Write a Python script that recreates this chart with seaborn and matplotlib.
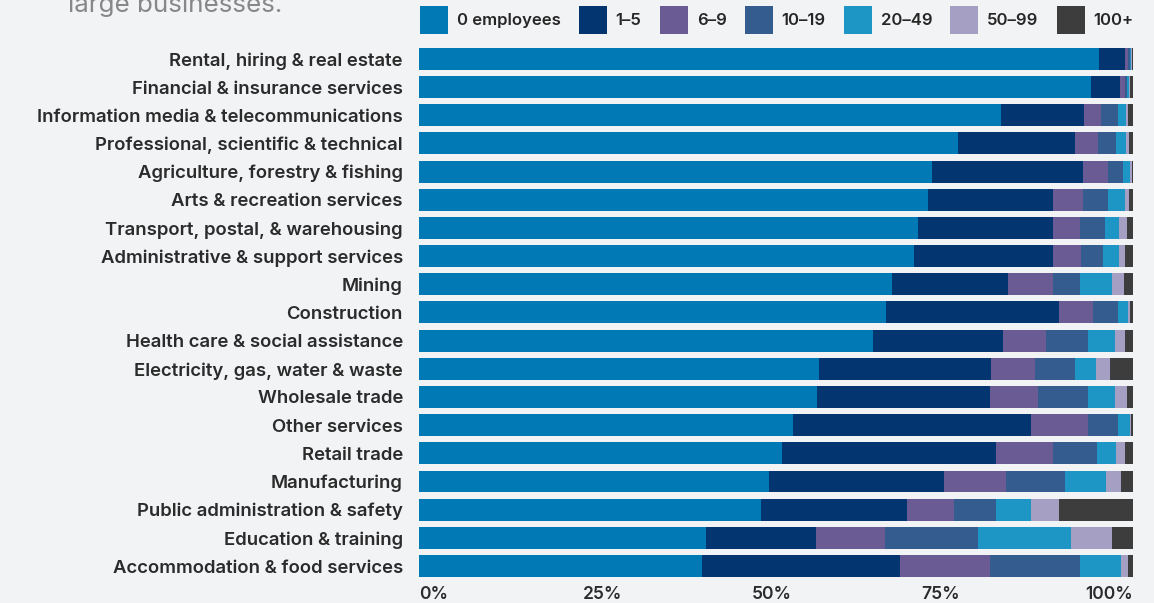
import numpy as np
import pandas as pd
import matplotlib
matplotlib.use("Agg")
import matplotlib.pyplot as plt
import seaborn as sns
from matplotlib.patches import Patch

categories = [
    "Rental, hiring & real estate",
    "Financial & insurance services",
    "Information media & telecommunications",
    "Professional, scientific & technical",
    "Agriculture, forestry & fishing",
    "Arts & recreation services",
    "Transport, postal, & warehousing",
    "Administrative & support services",
    "Mining",
    "Construction",
    "Health care & social assistance",
    "Electricity, gas, water & waste",
    "Wholesale trade",
    "Other services",
    "Retail trade",
    "Manufacturing",
    "Public administration & safety",
    "Education & training",
    "Accommodation & food services",
]

emp_0 = [95.2, 94.1, 81.5, 75.5, 71.8, 71.2, 69.9, 69.3, 66.2, 65.4, 63.6, 56.0, 55.7, 52.4, 50.9, 49.0, 47.9, 40.2, 39.7]
emp_1_5 = [3.7, 4.1, 11.6, 16.4, 21.1, 17.6, 18.8, 19.5, 16.3, 24.2, 18.2, 24.1, 24.2, 33.3, 29.9, 24.5, 20.4, 15.4, 27.7]
emp_6_9 = [0.4, 0.7, 2.4, 3.2, 3.5, 4.2, 3.9, 3.9, 6.2, 4.8, 6.0, 6.2, 6.8, 8.0, 8.0, 8.7, 6.6, 9.7, 12.5]
emp_10_19 = [0.2, 0.2, 2.4, 2.5, 2.1, 3.4, 3.4, 3.1, 3.8, 3.4, 5.9, 5.5, 6.9, 4.2, 6.1, 8.3, 5.9, 13.0, 12.6]
emp_20_49 = [0.2, 0.3, 1.1, 1.4, 1.0, 2.5, 2.0, 2.2, 4.5, 1.5, 3.7, 3.0, 3.9, 1.6, 2.7, 5.7, 4.9, 13.0, 5.8]
emp_50_99 = [0.1, 0.2, 0.2, 0.4, 0.3, 0.5, 1.1, 0.8, 1.7, 0.3, 1.4, 2.0, 1.6, 0.2, 1.2, 2.1, 3.9, 5.7, 1.0]
emp_100 = [0.2, 0.4, 0.8, 0.6, 0.2, 0.6, 0.9, 1.2, 1.3, 0.4, 1.2, 3.2, 0.9, 0.3, 1.2, 1.7, 10.4, 3.0, 0.7]

series_names = ["0 employees", "1–5", "6–9", "10–19", "20–49", "50–99", "100+"]
colors = ["#0079b4", "#033570", "#6a5b94", "#345c8e", "#1d95c5", "#a69fc4", "#3d3d3d"]
tick_labels = ["0%", "25%", "50%", "75%", "100%"]

bg = "#f2f3f5"
text_col = "#2b2b2b"

sns.set_theme(style="white")
plt.rcParams["font.family"] = ["Inter", "DejaVu Sans"]

df = pd.DataFrame(
    {name: vals for name, vals in zip(series_names,
     [emp_0, emp_1_5, emp_6_9, emp_10_19, emp_20_49, emp_50_99, emp_100])},
    index=categories,
)
cum = df.cumsum(axis=1)

fig = plt.figure(figsize=(11.54, 6.03), dpi=100, facecolor=bg)
ax = fig.add_axes([0.363, 0.038, 0.619, 0.8876])
ax.set_facecolor(bg)

# stacked bars: draw cumulative totals from the widest layer down
for name, col in reversed(list(zip(series_names, colors))):
    sns.barplot(x=cum[name].values, y=categories, orient="h", color=col,
                saturation=1, width=0.78, linewidth=0, ax=ax)

ax.set_xlim(0, 100)
ax.set_ylim(18.5, -0.5)
ax.set_xlabel("")
ax.set_ylabel("")
for s in ax.spines.values():
    s.set_visible(False)

ax.tick_params(axis="y", length=0, pad=11.5, labelsize=13.35, labelcolor=text_col)
for lab in ax.get_yticklabels():
    lab.set_fontweight("semibold")

# x labels spread "space-between" like the original: first flush left, last flush right
ax.set_xticks([0, 100])
ax.set_xticklabels([tick_labels[0], tick_labels[-1]])
ax.tick_params(axis="x", length=0, pad=4, labelsize=12.5, labelcolor=text_col)
xl = ax.get_xticklabels()
xl[0].set_ha("left")
xl[-1].set_ha("right")
for lab in xl:
    lab.set_fontweight("semibold")
fig.canvas.draw()
r = fig.canvas.get_renderer()
inv = ax.transData.inverted()
ends = []
for lab in xl:
    bb = lab.get_window_extent(r)
    ends.append(inv.transform(((bb.x0 + bb.x1) / 2, 0))[0])
ax.set_xticks(np.linspace(ends[0], ends[1], len(tick_labels)))
ax.set_xticklabels(tick_labels, fontweight="semibold")
for lab in ax.get_xticklabels():
    lab.set_ha("center")

handles = [Patch(facecolor=c, edgecolor="none", label=n) for n, c in zip(series_names, colors)]
fig.legend(handles=handles, loc="upper left", bbox_to_anchor=(420 / 1154, 1 - 6 / 603),
           ncol=7, frameon=False, borderpad=0, borderaxespad=0,
           handlelength=1.68, handleheight=2.21, handletextpad=0.54, columnspacing=1.08,
           prop={"weight": "semibold", "size": 12})

fig.text(68 / 1154, 1 - 12 / 603, "large businesses.", fontsize=18.7, color="#878787",
         ha="left", va="baseline")

fig.savefig("out.png", dpi=100, facecolor=bg)
